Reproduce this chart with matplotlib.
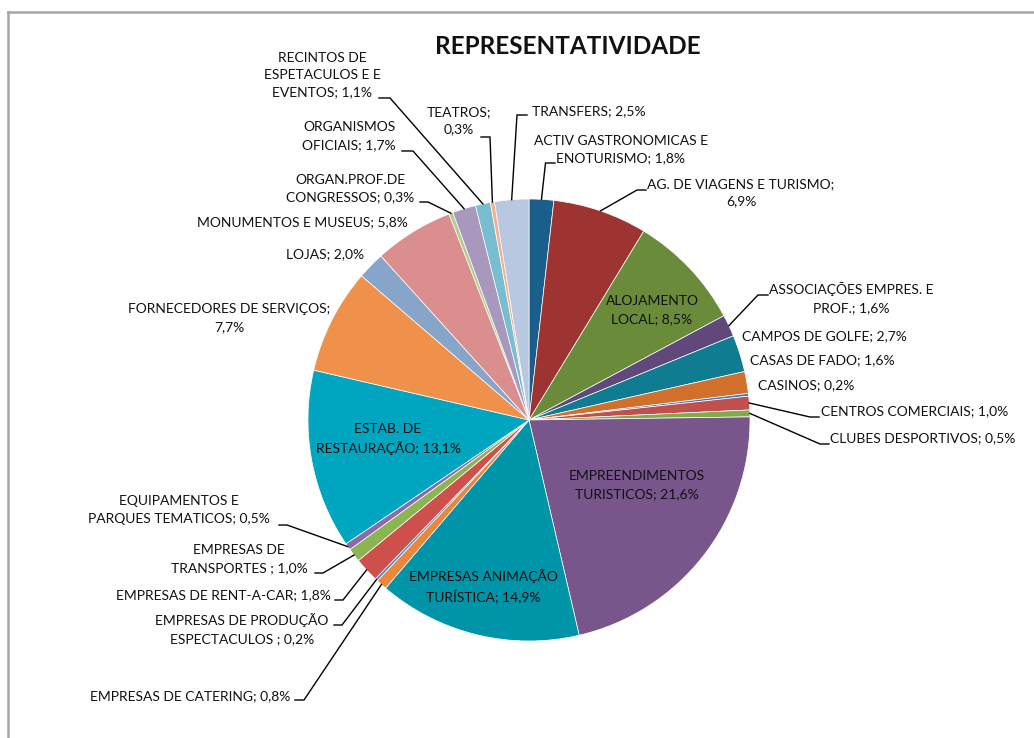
import numpy as np
import matplotlib
matplotlib.use("Agg")
import matplotlib.pyplot as plt
from matplotlib.lines import Line2D

# ── Data (clockwise from 12 o'clock) ───────────────────────────────────────
categories = [
    "ACTIV GASTRONOMICAS E\nENOTURISMO", "AG. DE VIAGENS E TURISMO;\n",
    "ALOJAMENTO\nLOCAL", "ASSOCIAÇÕES EMPRES. E\nPROF.", "CAMPOS DE GOLFE",
    "CASAS DE FADO", "CASINOS", "CENTROS COMERCIAIS", "CLUBES DESPORTIVOS",
    "EMPREENDIMENTOS\nTURISTICOS", "EMPRESAS ANIMAÇÃO\nTURÍSTICA",
    "EMPRESAS DE CATERING", "EMPRESAS DE PRODUÇÃO\nESPECTACULOS ",
    "EMPRESAS DE RENT-A-CAR", "EMPRESAS DE\nTRANSPORTES ",
    "EQUIPAMENTOS E\nPARQUES TEMATICOS", "ESTAB. DE\nRESTAURAÇÃO",
    "FORNECEDORES DE SERVIÇOS;\n", "LOJAS", "MONUMENTOS E MUSEUS",
    "ORGAN.PROF.DE\nCONGRESSOS", "ORGANISMOS\nOFICIAIS",
    "RECINTOS DE\nESPETACULOS E E\nEVENTOS", "TEATROS;\n", "TRANSFERS",
]
shares = [1.8, 6.9, 8.5, 1.6, 2.7, 1.6, 0.2, 1.0, 0.5, 21.6, 14.9, 0.8, 0.2,
          1.8, 1.0, 0.5, 13.1, 7.7, 2.0, 5.8, 0.3, 1.7, 1.1, 0.3, 2.5]
colors = [
    "#1A5E8C", "#9D3432", "#6A8B3A", "#60497A", "#0F7C91", "#D1702A",
    "#3A7DBE", "#C0504D", "#82AA4B", "#78568C", "#0094A8", "#EA873C",
    "#4A86C8", "#CD504D", "#8CB450", "#8C69AA", "#00A5C0", "#F0914B",
    "#87A5C8", "#DA8E8E", "#B4CD8C", "#A898BE", "#78BED0", "#F5AF8C",
    "#B8C8E0",
]

# label layout in pixel coords (top-left origin):
# text centre x, y, and leader (elbow x, elbow y, end x) or None
W, H = 1034, 738
layout = [
    (621, 149.5, (545.5, 163, 555)),
    (741, 192.5, (637, 190, 646)),
    (652, 310, None),
    (851, 298, (758, 295, 768)),
    (824, 336, None),
    (822, 360, None),
    (806.5, 385, None),
    (914.5, 411, (810, 417, 819)),
    (922.5, 438, (820, 444, 829)),
    (637, 485, None),
    (483, 587, None),
    (190, 696, (304, 700, 295)),
    (242, 629, (342, 625, 334)),
    (223.5, 595, (343, 600, 335)),
    (239, 559, (323, 573, 315)),
    (179, 510, (287, 525, 279)),
    (388, 439, None),
    (229.5, 318, None),
    (325.5, 254, None),
    (302, 222, None),
    (350, 188.5, (428, 202, 420)),
    (349, 136, (413, 151, 402)),
    (322, 75, (390, 98, 379)),
    (459, 120.5, (490, 137, 481)),
    (588.5, 111, (517, 115, 527)),
]

CX, CY, R = 529, H - 420, 221
FONT = "Lato"

fig = plt.figure(figsize=(W / 100, H / 100), dpi=100)
ax = fig.add_axes([0, 0, 1, 1])
wedges, _ = ax.pie(shares, colors=colors, startangle=90, counterclock=False,
                   center=(CX, CY), radius=R,
                   wedgeprops=dict(edgecolor="white", linewidth=0.5))
ax.set_xlim(0, W)
ax.set_ylim(0, H)
ax.set_aspect("equal")
ax.axis("off")

for w, cat, val, (tx, ty, lead) in zip(wedges, categories, shares, layout):
    pct = f"{val:.1f}%".replace(".", ",")
    if cat.endswith("\n"):
        label = cat + pct
    else:
        label = f"{cat}; {pct}"
    ax.text(tx, H - ty, label, ha="center", va="center", multialignment="center",
            fontsize=10, family=FONT, color="#111111", linespacing=1.55)
    if lead is not None:
        mid = np.deg2rad((w.theta1 + w.theta2) / 2)
        sx, sy = CX + R * np.cos(mid), CY + R * np.sin(mid)
        ex, ey, endx = lead
        ax.plot([sx, ex, endx], [sy, H - ey, H - ey], color="black", lw=1.0,
                solid_joinstyle="miter")

ax.text(568, H - 46, "REPRESENTATIVIDADE", ha="center", va="center",
        fontsize=17.5, fontweight="bold", family=FONT, color="#111111")

# chart-area border (only left and top edges fall inside the picture)
fig.add_artist(Line2D([8 / W, 8 / W], [0, 1 - 12 / H], color="#A6A6A6", lw=1.8))
fig.add_artist(Line2D([8 / W, 1], [1 - 12 / H, 1 - 12 / H], color="#A6A6A6", lw=1.8))

fig.savefig("out.png", dpi=100)
